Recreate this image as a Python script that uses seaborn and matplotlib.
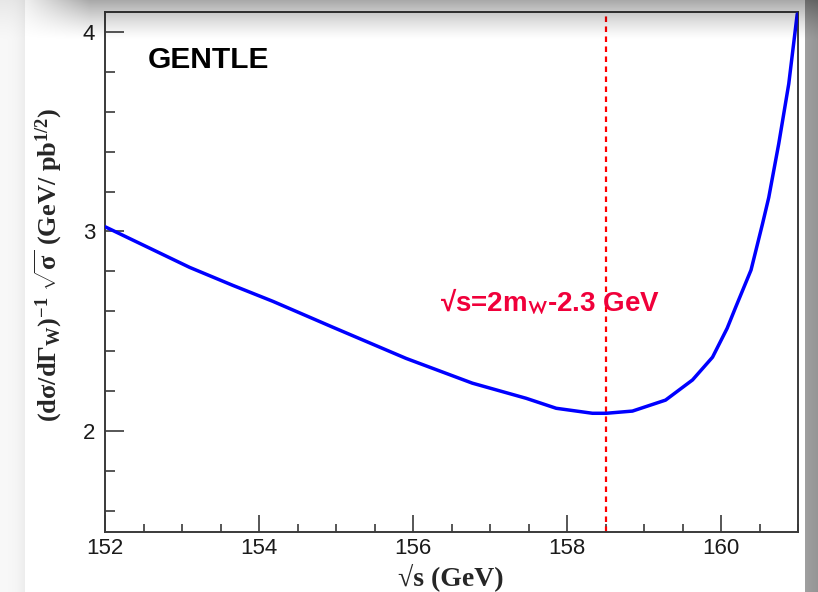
import numpy as np
import pandas as pd
import matplotlib
matplotlib.use("Agg")
import matplotlib.pyplot as plt
import seaborn as sns

# sqrt(s) scan (GeV) and the scaled statistical error on the W width
sqrt_s = [152.00, 153.10, 153.66, 154.18, 154.96, 155.91, 156.77, 157.47,
          157.86, 158.33, 158.51, 158.85, 159.28, 159.63, 159.89, 160.08,
          160.19, 160.39, 160.45, 160.54, 160.62, 160.75, 160.88, 160.99]
error = [3.024, 2.820, 2.730, 2.650, 2.520, 2.364, 2.240, 2.164,
         2.114, 2.089, 2.089, 2.100, 2.155, 2.256, 2.370, 2.515,
         2.620, 2.807, 2.900, 3.040, 3.170, 3.440, 3.740, 4.090]

optimum = 158.5
x_ticks = [152, 154, 156, 158, 160]
y_ticks = [2, 3, 4]

sns.set_theme(style="white")
plt.rcParams["font.family"] = ["Liberation Sans", "DejaVu Sans"]
plt.rcParams["mathtext.fontset"] = "custom"
plt.rcParams["mathtext.rm"] = "Liberation Serif:bold"
plt.rcParams["mathtext.it"] = "Liberation Serif:bold"
plt.rcParams["mathtext.bf"] = "Liberation Serif:bold"

W, H = 818, 592
fig = plt.figure(figsize=(W / 100, H / 100), dpi=100)
fig.patch.set_facecolor("white")
ax = fig.add_axes([105 / W, 1 - 532 / H, (798 - 105) / W, (532 - 12) / H])
ax.set_facecolor("white")

df = pd.DataFrame({"sqrt_s": sqrt_s, "error": error})
sns.lineplot(data=df, x="sqrt_s", y="error", ax=ax, color="#0000ff",
             linewidth=2.5, solid_capstyle="round", solid_joinstyle="round",
             zorder=3)

ax.axvline(optimum, color="#ff0000", linewidth=1.6, linestyle=(0, (2.5, 2)),
           zorder=2)

ax.set_xlim(152, 161)
ax.set_ylim(1.494, 4.1)
ax.set_xticks(x_ticks)
ax.set_xticks(np.arange(152, 161.01, 0.5), minor=True)
ax.set_yticks(y_ticks)
ax.set_yticks(np.arange(1.6, 4.11, 0.2), minor=True)
ax.set_xticklabels([str(t) for t in x_ticks])
ax.set_yticklabels([str(t) for t in y_ticks])

spine_c = "#3a3a3a"
for s in ax.spines.values():
    s.set_color(spine_c)
    s.set_linewidth(1.4)
ax.tick_params(axis="both", which="both", direction="in", colors=spine_c,
               labelcolor="#1a1a1a", width=1.2, labelsize=16,
               bottom=True, left=True, top=False, right=False)
ax.tick_params(axis="x", which="major", length=12, pad=4)
ax.tick_params(axis="x", which="minor", length=6)
ax.tick_params(axis="y", which="major", length=14, pad=7)
ax.tick_params(axis="y", which="minor", length=7)
ax.set_xlabel("")
ax.set_ylabel("")

ax.text(152.56, 3.86, "GENTLE", fontsize=21.5, fontweight="bold",
        color="black", ha="left", va="center")
ax.text(156.345, 2.647, "\u221as=2m$_{\\mathbf{W}}$-2.3 GeV", fontsize=20,
        fontweight="bold", color="#f0003a", ha="left", va="center",
        math_fontfamily="stixsans")

fig.text(451 / W, 1 - 577 / H, "\u221as (GeV)", fontsize=20,
         fontweight="bold", family=["Liberation Serif", "DejaVu Serif"],
         ha="center", va="center")
ylab = r"(d$\sigma$/d$\Gamma_{W}$)$^{-1}$ $\sqrt{\sigma}$ (GeV/ pb$^{1/2}$)"
fig.text(48 / W, 1 - 265 / H, ylab, fontsize=19, rotation=90,
         fontweight="bold", family=["Liberation Serif", "DejaVu Serif"],
         ha="center", va="center")

# soft frame shading around the canvas
yy, xx = np.mgrid[0:H, 0:W].astype(float)
top = 0.34 * np.clip(1 - yy / 40, 0, 1) ** 1.3 * np.clip((xx - 10) / 80, 0.2, 1)
left = np.where(xx < 25, 0.03 + 0.05 * (xx / 25) ** 3, 0)
right = np.where(xx >= 805, 0.38 + 0.04 * (xx - 805) / 13, 0)
d = 1 - (1 - top) * (1 - left) * (1 - right)
rgba = np.zeros((H, W, 4))
rgba[..., 3] = d
ov = fig.add_axes([0, 0, 1, 1], zorder=10)
ov.imshow(rgba, aspect="auto", interpolation="nearest")
ov.axis("off")

fig.savefig("out.png", dpi=100)
